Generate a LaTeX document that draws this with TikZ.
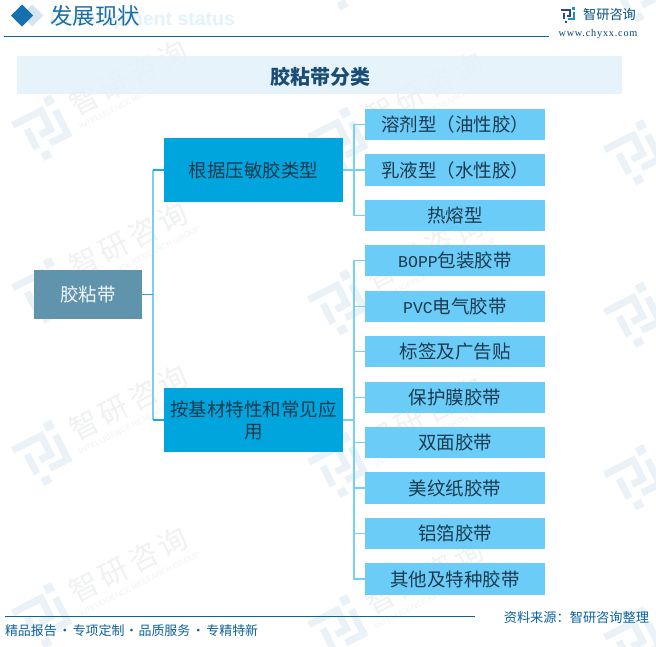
\documentclass[tikz,border=0pt]{standalone}
\usepackage{fontspec}
\setmainfont{Noto Sans CJK SC}
\newfontfamily\latinsans{Liberation Sans}
\newfontfamily\latinserif{Liberation Serif}
\newfontfamily\latinmono{Liberation Mono}
\newcommand{\fsz}[1]{\fontsize{\dimexpr #1pt*3/4\relax}{\dimexpr #1pt\relax}\selectfont}
\newcommand{\up}[1]{\raisebox{1.2pt}{#1}}
\definecolor{hdrblue}{HTML}{0B629C}
\definecolor{diafront}{HTML}{1670AD}
\definecolor{diaback}{HTML}{D5E5EF}
\definecolor{titleblue}{HTML}{1A6FA6}
\definecolor{ghostblue}{HTML}{E4F2FB}
\definecolor{bannerfill}{HTML}{E4F2FB}
\definecolor{bannertext}{HTML}{1A4D76}
\definecolor{rootfill}{HTML}{6093AC}
\definecolor{midfill}{HTML}{00A5DE}
\definecolor{leaffill}{HTML}{6BCDF7}
\definecolor{darktext}{HTML}{1B3A50}
\definecolor{busline}{HTML}{74D0F7}
\definecolor{stubline}{HTML}{1FA8DE}
\definecolor{wmlogo}{HTML}{EAF2F7}
\definecolor{wmtext}{HTML}{F0F1F3}
\definecolor{navy}{HTML}{2B4A8C}
\definecolor{logoblue}{HTML}{1C8FD0}
\tikzset{
  x=0.75pt,y=-0.75pt,
  rootbox/.style={fill=rootfill,draw=none,minimum width=81pt,minimum height=36.75pt,inner sep=0pt,text=white!92!rootfill,font=\fsz{18.5}},
  midbox/.style={fill=midfill,draw=none,minimum width=134.25pt,minimum height=48pt,inner sep=0pt,text=darktext,font=\fsz{18.5}},
  leafbox/.style={fill=leaffill,draw=none,minimum width=135pt,minimum height=23.4pt,inner sep=0pt,text=darktext,font=\fsz{18.5}},
  busconn/.style={draw=busline,line width=1.1pt},
  stubconn/.style={draw=stubline,line width=0.8pt},
  hdrline/.style={draw=hdrblue,line width=0.95pt},
  plain/.style={inner sep=0pt,outer sep=0pt},
}
% #1 left colour, #2 right colour, #3 stroke width
\newcommand{\logomark}[3]{%
  \draw[draw=#1,line width=#3,miter limit=10] (-26,-18) -- (6,-18) -- (6,3) -- (-6,3);
  \draw[draw=#1,line width=#3,miter limit=10] (-15,-8) -- (-15,14);
  \fill[#1] (-14,20) rectangle (-5,28);
  \fill[#2] (13,-28) rectangle (22,-19);
  \draw[draw=#2,line width=#3,miter limit=10] (19,-12) -- (19,15) -- (-1,15);
}
\newcommand{\wlogo}[2]{%
  \begin{scope}[shift={(#1,#2)},rotate=27]
    \logomark{wmlogo}{wmlogo}{5.25pt}
  \end{scope}}
\newcommand{\wmark}[2]{%
  \begin{scope}[shift={(#1,#2)},rotate=27]
    \logomark{wmlogo}{wmlogo}{5.25pt}
    \node[plain,transform shape,text=wmtext,font=\fsz{29}] at (99,-8) {\addfontfeature{LetterSpace=14}智研咨询};
    \node[plain,transform shape,text=wmtext,font={\latinsans\fsz{7.9}}] at (100,14) {INTELLIGENCE RESEARCH GROUP};
  \end{scope}}
\begin{document}
\begin{tikzpicture}
\useasboundingbox (0,0) rectangle (656,646);
\clip (0,0) rectangle (656,646);
\fill[white] (0,0) rectangle (656,646);
% watermarks
\wmark{44}{129.5}\wmark{44}{292}\wmark{44}{454.5}\wmark{44}{617}
\wlogo{340}{-21}\wmark{340}{141.5}\wmark{340}{304}\wmark{340}{466.5}\wmark{340}{629}
\wlogo{636}{-8.5}\wlogo{636}{154}\wlogo{636}{316.5}\wlogo{636}{479}\wlogo{636}{641.5}
% header
\node[plain,anchor=east,text=ghostblue,font={\latinsans\bfseries\fsz{19.5}}] (ghost) at (235,20) {Development status};
\fill[diaback] (21,15.5) -- (32,4.5) -- (43,15.5) -- (32,26.5) -- cycle;
\fill[diafront] (11,15.5) -- (22,4.5) -- (33,15.5) -- (22,26.5) -- cycle;
\node[plain,anchor=west,text=titleblue,font=\fsz{22.5}] (hdr) at (50,15.5) {发展现状};
\draw[hdrline] (4,36.5) -- (549,36.5);
% top-right brand
\begin{scope}[shift={(568.5,15)},scale=0.28]
  \logomark{navy}{logoblue}{1.6pt}
\end{scope}
\node[plain,text=hdrblue!80!black,font=\fsz{13.2}] (brand) at (609.5,14.5) {智研咨询};
\node[plain,text=hdrblue!70!black,font={\latinserif\fsz{10.2}}] (url) at (598,34.5) {\addfontfeature{LetterSpace=8}www.chyxx.com};
% banner
\fill[bannerfill,opacity=0.9] (17,56) rectangle (622,94);
\node[plain,text=bannertext,font=\bfseries\fsz{20}] (banner) at (320,77) {胶粘带分类};
% nodes
\node[rootbox] (root) at (88,294.5) {\up{胶粘带}};
\node[midbox] (ma) at (253.5,170) {\up{根据压敏胶类型}};
\node[midbox,align=center,font=\fontsize{13.875pt}{16.5pt}\selectfont] (mb) at (253.5,420) {\up{按基材特性和常见应}\\\up{用}};
\node[leafbox] (l1) at (455,124.5) {\up{溶剂型（油性胶）}};
\node[leafbox] (l2) at (455,170) {\up{乳液型（水性胶）}};
\node[leafbox] (l3) at (455,215.5) {\up{热熔型}};
\node[leafbox] (l4) at (455,260.5) {\up{{\latinmono\fontsize{12.4pt}{14pt}\selectfont BOPP}包装胶带}};
\node[leafbox] (l5) at (455,306.5) {\up{{\latinmono\fontsize{12.4pt}{14pt}\selectfont PVC}电气胶带}};
\node[leafbox] (l6) at (455,351.5) {\up{标签及广告贴}};
\node[leafbox] (l7) at (455,397.5) {\up{保护膜胶带}};
\node[leafbox] (l8) at (455,442.5) {\up{双面胶带}};
\node[leafbox] (l9) at (455,488) {\up{美纹纸胶带}};
\node[leafbox] (l10) at (455,533.5) {\up{铝箔胶带}};
\node[leafbox] (l11) at (455,579) {\up{其他及特种胶带}};
% connectors
\coordinate (busr) at (153,294.5);
\coordinate (busra) at (153,170);
\coordinate (busrb) at (153,420);
\coordinate (busa) at (354,170);
\coordinate (busb) at (354,420);
\draw[busconn] (busra) -- (busrb);
\draw[stubconn] (root.east) -- (busr);
\draw[stubconn] (busra) -- (ma.west);
\draw[stubconn] (busrb) -- (mb.west);
\draw[busconn] (ma.east) -- (busa);
\foreach \t in {l1,l2,l3}{\draw[busconn] (busa) |- (\t.west);}
\draw[busconn] (mb.east) -- (busb);
\foreach \t in {l4,l5,l6,l7,l8,l9,l10,l11}{\draw[busconn] (busb) |- (\t.west);}
% footer
\draw[hdrline] (5,616.5) -- (475,616.5);
\node[plain,anchor=west,text=hdrblue,font=\fsz{12.95}] (foot) at (5,631) {精品报告\makebox[12pt]{·}专项定制\makebox[10.5pt]{·}品质服务\makebox[12pt]{·}专精特新};
\node[plain,anchor=east,text=hdrblue,font=\fsz{13.2}] (src) at (649,618) {资料来源：智研咨询整理};
\end{tikzpicture}
\end{document}
